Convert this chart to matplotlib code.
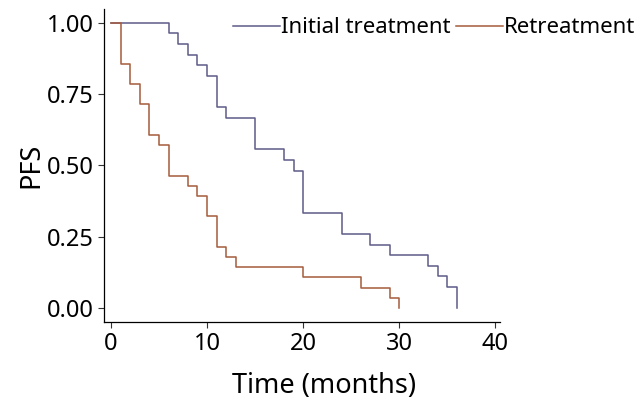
import matplotlib.pyplot as plt

# Kaplan-Meier step data
init_time = [0, 6, 7, 8, 9, 10, 11, 12, 15, 18, 19, 20, 24, 27, 29, 33, 34, 35, 36]
init_pfs = [1.0, 0.963, 0.926, 0.889, 0.852, 0.815, 0.704, 0.667, 0.556, 0.519,
            0.481, 0.333, 0.259, 0.222, 0.185, 0.148, 0.111, 0.074, 0.0]

re_time = [0, 1, 2, 3, 4, 5, 6, 8, 9, 10, 11, 12, 13, 20, 26, 29, 30]
re_pfs = [1.0, 0.857, 0.786, 0.714, 0.607, 0.571, 0.464, 0.429, 0.393, 0.321,
          0.214, 0.179, 0.143, 0.107, 0.071, 0.036, 0.0]

x_ticks = [0, 10, 20, 30, 40]
y_ticks = [0.0, 0.25, 0.5, 0.75, 1.0]
y_labels = ["0.00", "0.25", "0.50", "0.75", "1.00"]

plt.rcParams['font.family'] = ['Noto Sans', 'DejaVu Sans']

fig = plt.figure(figsize=(6.41, 4.12), dpi=100)
ax = fig.add_axes([0.162, 0.218, 0.618, 0.761])

ax.plot(init_time, init_pfs, drawstyle='steps-post', color='#5e5b87', lw=1.1,
        label='Initial treatment')
ax.plot(re_time, re_pfs, drawstyle='steps-post', color='#a65b3c', lw=1.1,
        label='Retreatment')

ax.set_xlim(-0.75, 40.5)
ax.set_ylim(-0.05, 1.05)
ax.set_xticks(x_ticks)
ax.set_yticks(y_ticks)
ax.set_yticklabels(y_labels)
ax.tick_params(labelsize=17, length=4, width=0.8, color='#333333', pad=3)

for s in ['top', 'right']:
    ax.spines[s].set_visible(False)
for s in ['left', 'bottom']:
    ax.spines[s].set_linewidth(0.9)

ax.set_xlabel('Time (months)', fontsize=19.5)
ax.xaxis.set_label_coords(0.556, -0.16)
ax.set_ylabel('PFS', fontsize=19.5)
ax.yaxis.set_label_coords(-0.148, 0.5)

fig.legend(loc='upper right', bbox_to_anchor=(1.012, 0.99), ncol=2, frameon=False,
           fontsize=16, handlelength=2.1, handletextpad=0.05, columnspacing=0.25,
           borderaxespad=0.2)

fig.savefig('out.png', dpi=100)
